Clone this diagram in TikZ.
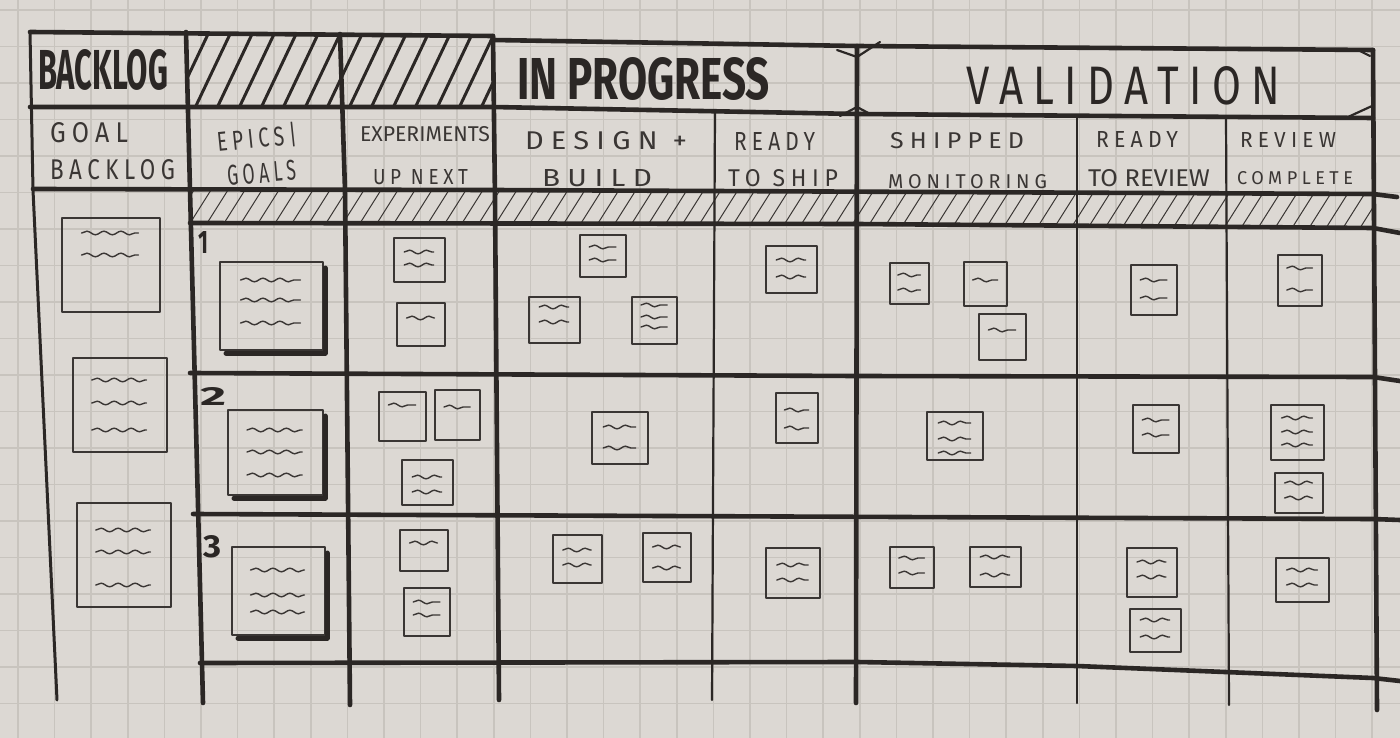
\documentclass[tikz,border=0pt]{standalone}
\usepackage{fontspec}
\setmainfont{Fira Sans}
\newfontfamily\handw[LetterSpace=25]{Fira Sans}
\newfontfamily\handn{Fira Sans}
\usetikzlibrary{decorations.pathmorphing}
\definecolor{paper}{HTML}{DCD8D3}
\definecolor{gridc}{HTML}{C8C4BE}
\definecolor{ink}{HTML}{2B2725}
\definecolor{pen}{HTML}{3A3634}
\tikzset{
  major/.style={draw=ink, line width=4.6pt, line cap=round, line join=round},
  minor/.style={draw=ink, line width=2.2pt, line cap=round, line join=round},
  cardline/.style={draw=pen, line width=1.5pt, line join=round},
  squig/.style={draw=pen, line width=1.4pt, line cap=round, decorate, decoration={snake, amplitude=1.8pt, segment length=17pt}},
  hatchb/.style={draw=ink, line width=3pt, line cap=round},
  hatcht/.style={draw=pen, line width=1pt},
  txt/.style={inner sep=0pt, outer sep=0pt, text=ink},
  subt/.style={inner sep=0pt, outer sep=0pt, text=pen, anchor=base west},
  gridl/.style={draw=gridc, line width=1.6pt},
}
\newcommand{\kcard}[5]{%
  \draw[cardline] (#1,#2) rectangle (#3,#4);
  \foreach \oy in {#5}{%
    \draw[squig] ({#1+0.2*(#3-#1)},{#2+\oy}) -- ({#1+0.78*(#3-#1)},{#2+\oy});
  }%
}
\newcommand{\ecard}[5]{%
  \kcard{#1}{#2}{#3}{#4}{#5}%
  \draw[draw=ink, line width=5pt, line cap=round, line join=round] ({#3+2},{#2+6}) -- ({#3+2},{#4+3}) -- ({#1+6},{#4+3});
}
\begin{document}
\begin{tikzpicture}[x=1pt, y=-1pt]
\useasboundingbox (0,0) rectangle (1400,738);
\fill[paper] (0,0) rectangle (1400,738);
% grid paper
\foreach \k in {0,...,38} \draw[gridl] ({18+36.6*\k},0) -- ({18+36.6*\k},738);
\foreach \k in {0,...,20} \draw[gridl] (0,{10+36.5*\k}) -- (1400,{10+36.5*\k});

% hatched header cells
\begin{scope}
  \clip (186,33) -- (493,37) -- (493,107) -- (186,107) -- cycle;
  \foreach \x in {150,172,...,520} \draw[hatchb] (\x,110) -- ({\x+38},30);
\end{scope}
% hatched strip
\begin{scope}
  \clip (190,190) -- (1373,194) -- (1373,228) -- (190,223) -- cycle;
  \foreach \x in {170,187,...,1390} \draw[hatcht] (\x,228) -- ({\x+24},190);
\end{scope}

% board lines
\draw[major, line width=3pt] (30,32) -- (33,190) -- (57,700);
\draw[major] (30,32) -- (493,36);
\draw[major] (493,40) -- (857,46) -- (1373,50);
\draw[major] (30,107) -- (493,107) -- (857,114) -- (1373,118);
\draw[major] (33,189) -- (493,190) -- (1373,194) -- (1397,197);
\draw[major] (190,223) -- (857,224) -- (1373,228) -- (1400,233);
\draw[major] (190,373) -- (857,376) -- (1373,377) -- (1400,381);
\draw[major] (193,514) -- (1373,519) -- (1400,520);
\draw[major] (200,663) -- (857,662) -- (1077,666) -- (1373,678) -- (1400,681);
\draw[major] (186,32) -- (190,190) -- (203,703);
\draw[major] (340,34) -- (345,190) -- (350,705);
\draw[major] (493,36) -- (495,200) -- (499,700);
\draw[minor] (715,112) -- (712,700);
\draw[major] (857,46) -- (856,703);
\draw[minor] (1077,116) -- (1077,703);
\draw[minor] (1226,118) -- (1229,705);
\draw[major] (1373,50) -- (1377,710);
% header corner marks
\draw[minor] (837,50) -- (857,57) -- (880,42);
\draw[minor] (840,116) -- (857,107) -- (872,115);
\draw[minor] (1356,49) -- (1370,56);
\draw[minor] (1348,117) -- (1372,106);

% goal backlog cards
\kcard{62}{218}{160}{312}{15,37}
\kcard{73}{358}{167}{452}{22,45,72}
\kcard{77}{503}{171}{607}{27,49,82}
% epics / goals
\ecard{220}{262}{323}{350}{18,38,61}
\ecard{228}{410}{323}{495}{20,42,65}
\ecard{232}{547}{325}{635}{23,48,65}
% experiments up next
\kcard{394}{238}{445}{282}{14,27}
\kcard{397}{303}{445}{346}{15}
\kcard{379}{392}{426}{441}{13}
\kcard{435}{390}{480}{440}{17}
\kcard{402}{460}{453}{505}{17,32}
\kcard{400}{530}{448}{571}{13}
\kcard{404}{588}{450}{636}{14,27}
% design + build
\kcard{580}{235}{626}{277}{12,25}
\kcard{529}{297}{580}{343}{10,25}
\kcard{632}{297}{677}{344}{8,20,30}
\kcard{592}{412}{648}{464}{15,36}
\kcard{553}{535}{602}{583}{15,30}
\kcard{643}{533}{691}{582}{14,35}
% ready to ship
\kcard{766}{246}{817}{293}{14,31}
\kcard{776}{393}{818}{443}{17,35}
\kcard{766}{548}{820}{598}{17,32}
% shipped monitoring
\kcard{890}{263}{929}{304}{12,27}
\kcard{964}{262}{1007}{306}{18}
\kcard{979}{314}{1026}{360}{16}
\kcard{927}{412}{983}{460}{11,27,41}
\kcard{890}{547}{934}{588}{11,26}
\kcard{970}{547}{1021}{587}{10,28}
% ready to review
\kcard{1131}{265}{1177}{315}{15,33}
\kcard{1133}{405}{1179}{453}{15,30}
\kcard{1127}{548}{1177}{597}{14,29}
\kcard{1130}{609}{1181}{652}{11,28}
% review complete
\kcard{1278}{255}{1322}{306}{13,35}
\kcard{1271}{405}{1324}{460}{13,27,40}
\kcard{1275}{473}{1323}{513}{10,25}
\kcard{1276}{558}{1329}{602}{12,27}

% titles
\node[txt, anchor=base west] (hBacklog) at (38,90) {\resizebox{130pt}{40pt}{\bfseries BACKLOG}};
\node[txt, anchor=base west] (hProgress) at (517,100) {\resizebox{253pt}{42pt}{\bfseries IN PROGRESS}};
\node[txt, anchor=base west] (hValid) at (966,105) {\resizebox{314pt}{38pt}{\handw VALIDATION}};
% column labels
\node[subt] (sGoal) at (50,143) {\resizebox{78pt}{20pt}{\handw GOAL}};
\node[subt] (sBacklog) at (50,180) {\resizebox{125pt}{20pt}{\handw BACKLOG}};
\node[subt, rotate=6] (sEpics) at (218,152) {\resizebox{80pt}{22pt}{\handw EPICS|}};
\node[subt, rotate=5] (sGoals) at (228,186) {\resizebox{69pt}{20pt}{\handw GOALS}};
\node[subt] (sExp) at (360,142) {\resizebox{130pt}{15pt}{\handn EXPERIMENTS}};
\node[subt] (sUp) at (373,185) {\resizebox{95pt}{15pt}{\handw UP NEXT}};
\node[subt] (sDesign) at (525,150) {\resizebox{162pt}{18pt}{\handw DESIGN +}};
\node[subt] (sBuild) at (542,187) {\resizebox{110pt}{17pt}{\handw BUILD}};
\node[subt] (sReadyA) at (734,151) {\resizebox{81pt}{18pt}{\handw READY}};
\node[subt] (sShip) at (728,187) {\resizebox{110pt}{17pt}{\handw TO SHIP}};
\node[subt] (sShipped) at (890,149) {\resizebox{134pt}{16pt}{\handw SHIPPED}};
\node[subt] (sMon) at (888,189) {\resizebox{159pt}{14pt}{\handw MONITORING}};
\node[subt] (sReadyB) at (1096,148) {\resizebox{82pt}{16pt}{\handw READY}};
\node[subt] (sToReview) at (1088,187) {\resizebox{122pt}{17pt}{\handn TO REVIEW}};
\node[subt] (sRev) at (1240,148) {\resizebox{96pt}{15pt}{\handw REVIEW}};
\node[subt] (sComplete) at (1237,185) {\resizebox{116pt}{13pt}{\handw COMPLETE}};
% lane numbers
\node[txt, anchor=base west] (n1) at (198,253) {\resizebox{10pt}{22pt}{\bfseries 1}};
\node[txt, anchor=base west] (n2) at (200,405) {\resizebox{26pt}{18pt}{\bfseries 2}};
\node[txt, anchor=base west] (n3) at (203,557) {\resizebox{18pt}{22pt}{\bfseries 3}};
\end{tikzpicture}
\end{document}
